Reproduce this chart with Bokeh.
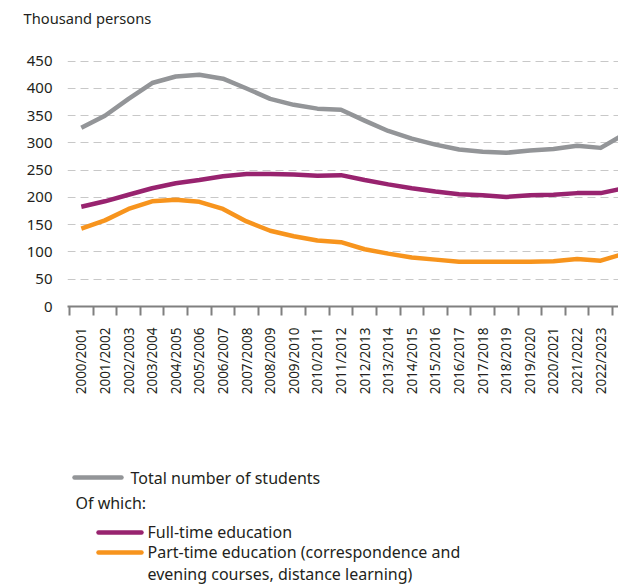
import math
from bokeh.plotting import figure
from bokeh.models import FixedTicker, Range1d
from bokeh.core.properties import value
from bokeh.embed import file_html
from bokeh.resources import INLINE

# ---------------- data ----------------
categories = ["2000/2001", "2001/2002", "2002/2003", "2003/2004", "2004/2005", "2005/2006",
              "2006/2007", "2007/2008", "2008/2009", "2009/2010", "2010/2011", "2011/2012",
              "2012/2013", "2013/2014", "2014/2015", "2015/2016", "2016/2017", "2017/2018",
              "2018/2019", "2019/2020", "2020/2021", "2021/2022", "2022/2023", "2023/2024"]
total = [328, 350, 381, 410, 422, 425, 418, 400, 381, 370, 363, 361,
         341, 322, 308, 297, 288, 284, 282, 286, 289, 295, 291, 316]
full_time = [183, 193, 205, 217, 226, 232, 239, 243, 243, 242, 240, 241,
             232, 224, 217, 211, 206, 204, 201, 204, 205, 208, 208, 217]
part_time = [143, 158, 179, 193, 196, 192, 179, 156, 139, 129, 121, 118,
             105, 97, 90, 86, 82, 82, 82, 82, 83, 87, 84, 97]
y_ticks = [0, 50, 100, 150, 200, 250, 300, 350, 400, 450]
shown_labels = categories[:23]

unit_title = "Thousand persons"
legend_total = "Total number of students"
legend_sub = "Of which:"
legend_full = "Full-time education"
legend_part = ["Part-time education (correspondence and", "evening courses, distance learning)"]

GRAY = "#939598"
PURPLE = "#98236f"
ORANGE = "#f7941d"
TEXT = "#231f20"
FONT = "Noto Sans"
W = 618

x = list(range(len(categories)))


def strip(height, y0, y1):
    f = figure(width=W, height=height, x_range=Range1d(0, W), y_range=Range1d(y1, y0),
               output_backend="svg", toolbar_location=None, min_border=0,
               x_axis_location=None, y_axis_location=None)
    f.grid.visible = False
    f.outline_line_color = None
    return f


# ---------------- title strip (page y 0..40) ----------------
t = strip(40, 0, 40)
t.text(x=[23], y=[17], text=[unit_title], text_font=value(FONT),
       text_font_size=value("14.7px"), text_color=TEXT, text_baseline="middle", text_align="left")

# ---------------- main chart (page y 40..400) ----------------
p = figure(width=W, height=360, x_range=Range1d(-0.585, 22.754), y_range=Range1d(0, 488),
           output_backend="svg", toolbar_location=None,
           min_border_left=67, min_border_right=0, min_border_top=0, min_border_bottom=94)
p.outline_line_color = None
p.xgrid.visible = False
p.ygrid.ticker = FixedTicker(ticks=y_ticks)
p.ygrid.grid_line_color = "#c8c8c8"
p.ygrid.grid_line_dash = "8 5"
p.ygrid.grid_line_width = 1

p.yaxis.ticker = FixedTicker(ticks=y_ticks)
p.yaxis.axis_line_color = None
p.yaxis.major_tick_line_color = None
p.yaxis.minor_tick_line_color = None
p.yaxis.major_tick_in = 0
p.yaxis.major_tick_out = 0
p.yaxis.minor_tick_in = 0
p.yaxis.minor_tick_out = 0
p.yaxis.major_label_standoff = 15
p.yaxis.major_label_text_font = FONT
p.yaxis.major_label_text_font_size = "15px"
p.yaxis.major_label_text_color = TEXT

p.xaxis.ticker = FixedTicker(ticks=list(range(len(shown_labels))),
                             minor_ticks=[i - 0.5 for i in range(len(shown_labels) + 1)])
p.xaxis.major_label_overrides = {i: lab for i, lab in enumerate(shown_labels)}
p.xaxis.major_label_orientation = math.pi / 2
p.xaxis.major_tick_in = 0
p.xaxis.major_tick_out = 0
p.xaxis.minor_tick_in = 0
p.xaxis.minor_tick_out = 9
p.xaxis.minor_tick_line_color = "#808080"
p.xaxis.minor_tick_line_width = 2
p.xaxis.axis_line_color = "#808080"
p.xaxis.axis_line_width = 2
p.xaxis.major_label_standoff = 12
p.xaxis.major_label_text_font = FONT
p.xaxis.major_label_text_font_size = "13.5px"
p.xaxis.major_label_text_color = TEXT

p.line(x, total, line_color=GRAY, line_width=4.5, line_join="round")
p.line(x, full_time, line_color=PURPLE, line_width=4.5, line_join="round")
p.line(x, part_time, line_color=ORANGE, line_width=4.5, line_join="round")

# ---------------- legend strip (page y 400..587) ----------------
lg = strip(187, 400, 587)
lg.line([74, 121], [477, 477], line_color=GRAY, line_width=4.5, line_cap="round")
lg.line([98, 141], [532, 532], line_color=PURPLE, line_width=4.5, line_cap="round")
lg.line([98, 141], [552, 552], line_color=ORANGE, line_width=4.5, line_cap="round")
lg.text(x=[130, 75, 147, 147, 147], y=[477, 502, 531, 551, 573],
        text=[legend_total, legend_sub, legend_full, legend_part[0], legend_part[1]],
        text_font=value(FONT), text_font_size=value("16px"), text_color=TEXT,
        text_baseline="middle", text_align="left")

open("out.html", "w").write(file_html([t, p, lg], INLINE))
